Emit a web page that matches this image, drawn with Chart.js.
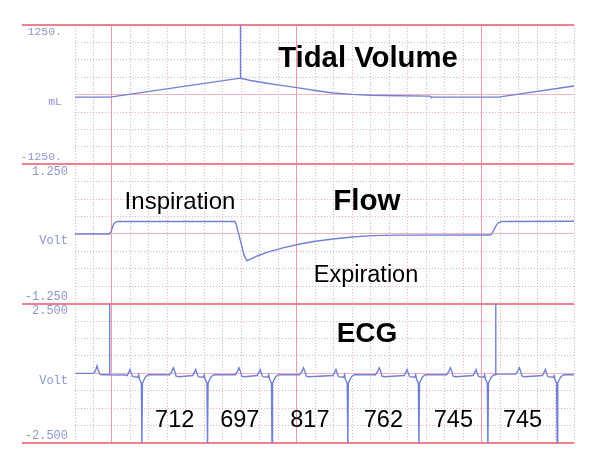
<!DOCTYPE html>
<html><head><meta charset="utf-8">
<script src="https://cdn.jsdelivr.net/npm/chart.js@4/dist/chart.umd.min.js"></script>
<style>html,body{margin:0;padding:0;background:#fff}#wrap{width:600px;height:469px;position:relative}</style>
</head><body><div id="wrap"><canvas id="c"></canvas></div>
<script>
// time axis in ms; values in mL / Volt
const tvPoints = [[0,-45],[380,-45],[1790,297],[1790,1300],[1792,297],[1900,255],[2078,205],[2250,162],[2435,117],[2600,75],[2792,30],[3000,5],[3203,-10],[3500,-20],[3842,-27],[3852,-45],[4200,-45],[4580,-45],[5400,155]];
const flowPoints = [[0,0],[372,0],[390,0.04],[405,0.12],[420,0.18],[440,0.215],[465,0.225],[1731,0.225],[1745,0.17],[1790,-0.12],[1830,-0.38],[1862,-0.48],[1900,-0.45],[1980,-0.39],[2078,-0.33],[2250,-0.25],[2435,-0.18],[2600,-0.13],[2792,-0.09],[3000,-0.055],[3225,-0.03],[3500,-0.02],[4490,-0.018],[4510,0.0],[4535,0.08],[4560,0.16],[4585,0.205],[4620,0.225],[5400,0.228]];
const ecgPoints = [
 [0,0],[200,0],[220,0.08],[238,0.27],[255,0.08],[272,-0.04],[300,-0.05],[374,-0.05],[375,2.6],[376,-0.05],[540,-0.06],
 [564,-0.08],[584,0.05],[596,0.14],[609,0.0],[624,-0.12],[679,-0.14],[689,-0.05],[699,-0.22],[718,-0.35],[724,-2.6],[730,-0.35],[744,-0.25],[764,-0.12],[794,-0.05],[1024,-0.05],[1049,0.08],[1064,0.2],[1079,0.08],[1094,-0.1],[1124,-0.12],
 [1274,-0.08],[1294,0.05],[1306,0.14],[1319,0],[1334,-0.12],[1389,-0.14],[1399,-0.05],[1409,-0.22],[1428,-0.35],[1434,-2.6],[1440,-0.35],[1454,-0.25],[1474,-0.12],[1504,-0.05],[1734,-0.05],[1759,0.08],[1774,0.2],[1789,0.08],[1804,-0.1],[1834,-0.12],
 [1972,-0.08],[1992,0.05],[2004,0.14],[2017,0],[2032,-0.12],[2087,-0.14],[2097,-0.05],[2107,-0.22],[2126,-0.35],[2132,-2.6],[2138,-0.35],[2152,-0.25],[2172,-0.12],[2202,-0.05],[2432,-0.05],[2457,0.08],[2472,0.2],[2487,0.08],[2502,-0.1],[2532,-0.12],
 [2792,-0.08],[2812,0.05],[2824,0.14],[2837,0],[2852,-0.12],[2907,-0.14],[2917,-0.05],[2927,-0.22],[2946,-0.35],[2952,-2.6],[2958,-0.35],[2972,-0.25],[2992,-0.12],[3022,-0.05],[3252,-0.05],[3277,0.08],[3292,0.2],[3307,0.08],[3322,-0.1],[3352,-0.12],
 [3562,-0.08],[3582,0.05],[3594,0.14],[3607,0],[3622,-0.12],[3677,-0.14],[3687,-0.05],[3697,-0.22],[3716,-0.35],[3722,-2.6],[3728,-0.35],[3742,-0.25],[3762,-0.12],[3792,-0.05],[4022,-0.05],[4047,0.08],[4062,0.2],[4077,0.08],[4092,-0.1],[4122,-0.12],
 [4308,-0.08],[4328,0.05],[4340,0.14],[4353,0],[4368,-0.12],[4423,-0.14],[4433,-0.05],[4443,-0.22],[4462,-0.35],[4468,-2.6],[4474,-0.35],[4488,-0.25],[4508,-0.12],[4538,-0.05],[4552,-0.05],[4553,2.6],[4554,-0.03],[4768,-0.03],[4793,0.08],[4808,0.2],[4823,0.08],[4838,-0.1],[4868,-0.12],
 [5058,-0.08],[5078,0.05],[5090,0.14],[5103,0],[5118,-0.12],[5173,-0.14],[5183,-0.05],[5193,-0.22],[5212,-0.35],[5218,-2.6],[5224,-0.35],[5238,-0.25],[5258,-0.12],[5288,-0.05],[5400,-0.05]
];
const rPeakTimes = [724,1434,2132,2952,3722,4468,5218];
const rrLabels = ['712','697','817','762','745','745'];
const tvTickLabels = ['-1250.','mL','1250.'];
const flowTickLabels = ['-1.250','Volt','1.250'];
const ecgTickLabels = ['-2.500','Volt','2.500'];
const panelTitles = ['Tidal Volume','Flow','ECG'];
const phaseLabels = ['Inspiration','Expiration'];
const majorTimes = [400,2400,4400];

const RED = '#f0808f', MID = '#f3b3c0', DOT = 'rgba(225,110,150,0.55)', MAJ = '#ef9aa8';
const TRACE = '#7080d4', LABEL = '#8c96cd';

function yScale(min, max, labels, weight, fontSize, pad) {
  const vals = [];
  for (let i = 0; i <= 8; i++) vals.push(min + (max - min) * i / 8);
  const edge = i => i === 0 || i === 8;
  return {
    type: 'linear', position: 'left', stack: 'panels', stackWeight: 1, weight,
    min, max,
    afterBuildTicks: s => { s.ticks = vals.map(v => ({value: v})); },
    afterFit: s => { s.width = 75; },
    ticks: {
      autoSkip: false, padding: pad, color: LABEL,
      font: {family: '"Liberation Mono", monospace', size: fontSize},
      callback: (v, i) => i === 0 ? [labels[0], ''] : i === 4 ? ['', labels[1]] : i === 8 ? ['', labels[2]] : ''
    },
    grid: {
      drawTicks: true, tickLength: 53,
      color: c => edge(c.index) ? RED : c.index === 4 ? MID : DOT,
      lineWidth: c => edge(c.index) ? 2 : 1,
      tickColor: c => edge(c.index) ? RED : 'rgba(0,0,0,0)'
    },
    border: {display: false, dash: c => (c.index % 4 === 0) ? [] : [1, 2]}
  };
}

const notes = [
  {text: panelTitles[0], x: 3171, y: 497, axis: 'yTV', font: 'bold 29.3px "Liberation Sans", Arial, sans-serif'},
  {text: panelTitles[1], x: 3158, y: 0.43, axis: 'yFlow', font: 'bold 29.5px "Liberation Sans", Arial, sans-serif'},
  {text: panelTitles[2], x: 3160, y: 1.13, axis: 'yECG', font: 'bold 28px "Liberation Sans", Arial, sans-serif'},
  {text: phaseLabels[0], x: 1136, y: 0.443, axis: 'yFlow', font: '24px "Liberation Sans", Arial, sans-serif'},
  {text: phaseLabels[1], x: 3149, y: -0.856, axis: 'yFlow', font: '23.5px "Liberation Sans", Arial, sans-serif'}
];
rrLabels.forEach((t, i) => notes.push({text: t, x: (rPeakTimes[i] + rPeakTimes[i + 1]) / 2, y: -1.916, axis: 'yECG', font: '23.5px "Liberation Sans", Arial, sans-serif'}));

const textPlugin = {
  id: 'texts',
  afterDatasetsDraw(chart) {
    const {ctx, scales} = chart;
    ctx.save();
    ctx.fillStyle = '#000';
    ctx.textAlign = 'center';
    ctx.textBaseline = 'alphabetic';
    for (const n of notes) {
      ctx.font = n.font;
      ctx.fillText(n.text, scales.x.getPixelForValue(n.x), scales[n.axis].getPixelForValue(n.y));
    }
    ctx.restore();
  }
};

const ds = (pts, axis) => ({
  data: pts.map(([x, y]) => ({x, y})), yAxisID: axis,
  borderColor: TRACE, borderWidth: 1.4, pointRadius: 0, tension: 0, fill: false
});

new Chart(document.getElementById('c'), {
  type: 'line',
  data: {datasets: [ds(tvPoints, 'yTV'), ds(flowPoints, 'yFlow'), ds(ecgPoints, 'yECG')]},
  options: {
    responsive: true, maintainAspectRatio: false, animation: false, devicePixelRatio: 1,
    layout: {padding: {top: 25, right: 26, bottom: 26, left: 0}},
    plugins: {legend: {display: false}, tooltip: {enabled: false}},
    scales: {
      x: {
        type: 'linear', min: 0, max: 5400, position: 'bottom',
        afterBuildTicks: s => { const t = []; for (let v = 0; v <= 5400; v += 200) t.push({value: v}); s.ticks = t; },
        afterFit: s => { s.height = 0; },
        ticks: {display: false, autoSkip: false},
        grid: {drawTicks: false, color: c => majorTimes.includes(c.tick && c.tick.value) ? MAJ : DOT, lineWidth: 1},
        border: {display: false, dash: c => (c.tick && majorTimes.includes(c.tick.value)) ? [] : [1, 2]}
      },
      yTV: yScale(-1250, 1250, tvTickLabels, 3, 11.5, -40),
      yFlow: yScale(-1.25, 1.25, flowTickLabels, 2, 12, -46),
      yECG: yScale(-2.5, 2.5, ecgTickLabels, 1, 12, -46)
    }
  },
  plugins: [textPlugin]
});
</script></body></html>
